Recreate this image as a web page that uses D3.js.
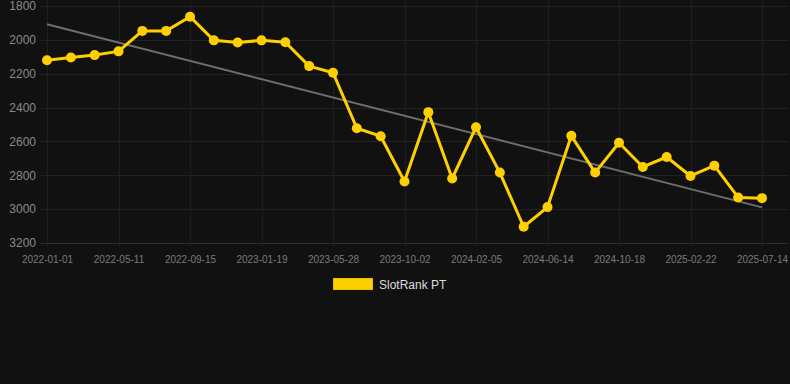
<!DOCTYPE html>
<html lang="en">
<head>
<meta charset="UTF-8">
<title>SlotRank PT</title>
<style>
  html, body { margin: 0; padding: 0; background: #111111; }
  svg { display: block; font-family: "Liberation Sans", Arial, Helvetica, sans-serif; }
</style>
</head>
<body>
<div id="chart"></div>
<script src="https://cdn.jsdelivr.net/npm/d3@7"></script>
<script>
// data
var dates = [
  "2022-01-01", "2022-02-13", "2022-03-28", "2022-05-11", "2022-06-23", "2022-08-04",
  "2022-09-15", "2022-10-27", "2022-12-08", "2023-01-19", "2023-03-03", "2023-04-15",
  "2023-05-28", "2023-07-10", "2023-08-21", "2023-10-02", "2023-11-13", "2023-12-25",
  "2024-02-05", "2024-03-19", "2024-05-01", "2024-06-14", "2024-07-26", "2024-09-06",
  "2024-10-18", "2024-11-30", "2025-01-11", "2025-02-22", "2025-04-08", "2025-05-25",
  "2025-07-14"
];
var rank = [
  2120, 2104, 2090, 2068, 1947, 1947, 1863, 2003, 2016, 2003, 2014, 2155,
  2194, 2522, 2569, 2837, 2427, 2819, 2516, 2784, 3104, 2988, 2567, 2784,
  2608, 2751, 2692, 2804, 2743, 2931, 2935
];
var yTicks = [1800, 2000, 2200, 2400, 2600, 2800, 3000, 3200];
var xTicks = ["2022-01-01", "2022-05-11", "2022-09-15", "2023-01-19", "2023-05-28", "2023-10-02",
              "2024-02-05", "2024-06-14", "2024-10-18", "2025-02-22", "2025-07-14"];
var seriesName = "SlotRank PT";

var W = 790, H = 384;
var plotLeft = 40, plotRight = 788, plotTop = 6, plotBottom = 243;

var svg = d3.select("#chart").append("svg")
  .attr("width", W).attr("height", H);

svg.append("rect").attr("width", W).attr("height", H).attr("fill", "#111111");

var x = d3.scalePoint().domain(dates).range([47, 762]);
var y = d3.scaleLinear().domain([1800, 3200]).range([plotTop, plotBottom]);

// grid
svg.append("g").selectAll("line").data(yTicks).join("line")
  .attr("x1", plotLeft).attr("x2", plotRight)
  .attr("y1", d => Math.round(y(d)) + 0.5).attr("y2", d => Math.round(y(d)) + 0.5)
  .attr("stroke", d => d === 3200 ? "#2e2e2e" : "#222222")
  .attr("stroke-width", 1);

svg.append("g").selectAll("line").data(xTicks).join("line")
  .attr("x1", d => Math.round(x(d)) + 0.5).attr("x2", d => Math.round(x(d)) + 0.5)
  .attr("y1", 0).attr("y2", plotBottom + 4)
  .attr("stroke", "#1e1e1e")
  .attr("stroke-width", 1);

// y axis labels
var yAxis = d3.axisLeft(y).tickValues(yTicks).tickFormat(d3.format("d"))
  .tickSize(0).tickPadding(4);
var gy = svg.append("g").attr("transform", "translate(" + plotLeft + ",0)").call(yAxis);
gy.select(".domain").remove();
gy.selectAll("text").attr("fill", "#8a8a8a").style("font-size", "12px")
  .style("font-family", "'Liberation Sans', Arial, sans-serif");

// x axis labels
var xAxis = d3.axisBottom(x).tickValues(xTicks).tickSize(0).tickPadding(13);
var gx = svg.append("g").attr("transform", "translate(0," + plotBottom + ")").call(xAxis);
gx.select(".domain").remove();
gx.selectAll("line").remove();
gx.selectAll("text").attr("fill", "#7a7a7a").style("font-size", "10px")
  .style("font-family", "'Liberation Sans', Arial, sans-serif");

// linear trend over the series
var n = rank.length;
var mx = d3.mean(d3.range(n)), my = d3.mean(rank);
var sxy = d3.sum(rank, (v, i) => (i - mx) * (v - my));
var sxx = d3.sum(d3.range(n), i => (i - mx) * (i - mx));
var slope = sxy / sxx, icpt = my - slope * mx;

svg.append("line")
  .attr("x1", x(dates[0])).attr("y1", y(icpt))
  .attr("x2", x(dates[n - 1])).attr("y2", y(icpt + slope * (n - 1)))
  .attr("stroke", "#6e6e6e").attr("stroke-width", 2);

// series
var line = d3.line().x((d, i) => x(dates[i])).y(d => y(d));
svg.append("path").datum(rank)
  .attr("d", line)
  .attr("fill", "none")
  .attr("stroke", "#ffd000")
  .attr("stroke-width", 3)
  .attr("stroke-linejoin", "round");

svg.append("g").selectAll("circle").data(rank).join("circle")
  .attr("cx", (d, i) => x(dates[i]))
  .attr("cy", d => y(d))
  .attr("r", 5)
  .attr("fill", "#ffd000");

// legend
var lg = svg.append("g");
lg.append("rect").attr("x", 333.5).attr("y", 278.5).attr("width", 39).attr("height", 11)
  .attr("fill", "#ffd000").attr("stroke", "#e6bb00").attr("stroke-width", 1);
lg.append("text").attr("x", 379).attr("y", 289)
  .attr("fill", "#dddddd").style("font-size", "12px")
  .text(seriesName);
</script>
</body>
</html>
